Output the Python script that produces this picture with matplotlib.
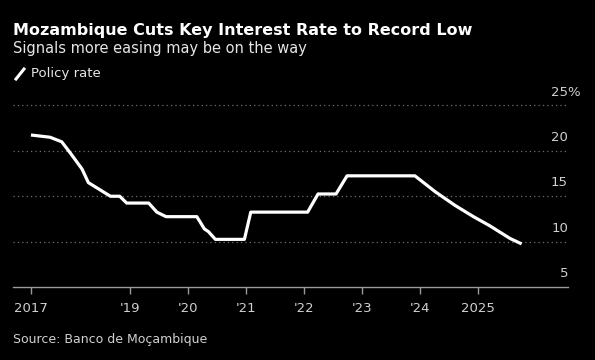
import matplotlib
matplotlib.use("Agg")
import matplotlib.pyplot as plt
from matplotlib.lines import Line2D

# Data (decimal years, policy rate %)
years = [2017.29, 2017.62, 2017.82, 2017.97, 2018.17, 2018.28, 2018.66, 2018.82,
         2018.94, 2019.32, 2019.46, 2019.62, 2020.15, 2020.28, 2020.35, 2020.47,
         2020.97, 2021.08, 2022.06, 2022.24, 2022.55, 2022.74, 2023.91, 2024.26,
         2024.60, 2024.92, 2025.20, 2025.55, 2025.75]
rates = [21.75, 21.5, 21.0, 19.75, 18.0, 16.5, 15.0, 15.0,
         14.25, 14.25, 13.25, 12.75, 12.75, 11.4, 11.1, 10.25,
         10.25, 13.25, 13.25, 15.25, 15.25, 17.25, 17.25, 15.5,
         14.0, 12.75, 11.75, 10.35, 9.75]

xtick_pos = [2017.29, 2019.0, 2020.0, 2021.0, 2022.0, 2023.0, 2024.0, 2025.0]
xtick_labels = ["2017", "'19", "'20", "'21", "'22", "'23", "'24", "2025"]
ytick_vals = [5, 10, 15, 20, 25]
ytick_labels = ["5", "10", "15", "20", "25%"]

W, H = 595, 360
fig = plt.figure(figsize=(W / 100, H / 100), dpi=100, facecolor="black")
ax = fig.add_axes([13 / W, 1 - 287 / H, (568 - 13) / W, (287 - 105.5) / H])
ax.set_facecolor("black")
ax.set_xlim(2016.98, 2026.55)
ax.set_ylim(5, 25)

grid_col = "#6e6e6e"
for v in ytick_vals[1:]:
    ax.axhline(v, color=grid_col, lw=0.9, ls=(0, (1, 2.5)), zorder=1, clip_on=False)

ax.plot(years, rates, color="white", lw=2.3, solid_joinstyle="round",
        solid_capstyle="butt", zorder=3)

for s in ["top", "right", "left"]:
    ax.spines[s].set_visible(False)
ax.spines["bottom"].set_color("#9a9a9a")
ax.spines["bottom"].set_linewidth(1.0)

ax.set_yticks([])
ax.set_xticks(xtick_pos)
ax.set_xticklabels(xtick_labels)
ax.tick_params(axis="x", colors="#9a9a9a", length=5, width=1.0, pad=6,
               labelsize=9.5, labelcolor="#d0d0d0")

for v, lab in zip(ytick_vals, ytick_labels):
    dx = 9.3 if lab.endswith("%") else 0
    ax.annotate(lab, xy=(1.0, v), xycoords=("axes fraction", "data"),
                xytext=(dx, 5), textcoords="offset points",
                ha="right", va="bottom", color="#d0d0d0", fontsize=9.5,
                annotation_clip=False)

fig.text(13 / W, 1 - 30 / H, "Mozambique Cuts Key Interest Rate to Record Low",
         color="white", fontsize=11.5, fontweight="bold", va="center", ha="left")
fig.text(13 / W, 1 - 48 / H, "Signals more easing may be on the way",
         color="#e6e6e6", fontsize=10.5, va="center", ha="left")
fig.add_artist(Line2D([16 / W, 24 / W], [1 - 79 / H, 1 - 69 / H],
                      color="white", lw=2.2, transform=fig.transFigure))
fig.text(31 / W, 1 - 74 / H, "Policy rate", color="#e6e6e6", fontsize=9.5,
         va="center", ha="left")
fig.text(13 / W, 1 - 339 / H, "Source: Banco de Moçambique", color="#d0d0d0",
         fontsize=9.0, va="center", ha="left")

fig.savefig("out.png", dpi=100, facecolor="black")
